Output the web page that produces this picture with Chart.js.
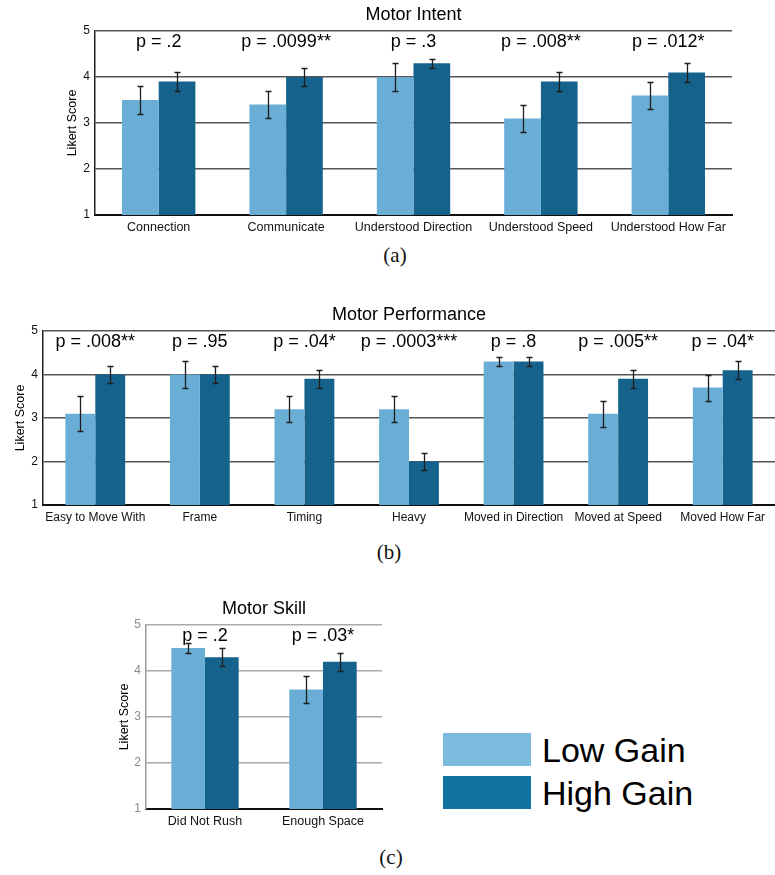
<!DOCTYPE html>
<html>
<head>
<meta charset="utf-8">
<script src="https://cdn.jsdelivr.net/npm/chart.js@4.4.1/dist/chart.umd.min.js"></script>
<style>
  body { margin:0; background:#fff; width:775px; height:875px; position:relative; overflow:hidden; font-family:'Liberation Sans', Arial, sans-serif; }
  canvas { position:absolute; }
  .cap { position:absolute; font-family:'Liberation Serif', serif; font-size:21px; color:#111; transform:translateX(-50%); }
  .sw { position:absolute; left:443px; width:88px; height:33px; }
  .lg { position:absolute; left:542px; font-size:34px; line-height:34px; color:#000; }
</style>
</head>
<body>
<canvas id="intentChart" width="775" height="240" style="left:0;top:0"></canvas>
<canvas id="perfChart" width="775" height="240" style="left:0;top:290px"></canvas>
<canvas id="skillChart" width="300" height="245" style="left:100px;top:585px"></canvas>

<div class="cap" style="left:395px;top:243px">(a)</div>
<div class="cap" style="left:389px;top:540px">(b)</div>
<div class="cap" style="left:391px;top:845px">(c)</div>

<div class="sw" style="top:733px;background:#7bbcde"></div>
<div class="lg" style="top:733px">Low Gain</div>
<div class="sw" style="top:776px;background:#11739f"></div>
<div class="lg" style="top:776px">High Gain</div>

<script>
const seriesNames = ['Low Gain', 'High Gain'];
const yTicks = [1, 2, 3, 4, 5];

// (a) Motor Intent
const intentLabels = ['Connection', 'Communicate', 'Understood Direction', 'Understood Speed', 'Understood How Far'];
const intentLow = [3.5, 3.4, 4.0, 3.1, 3.6];
const intentHigh = [3.9, 4.0, 4.3, 3.9, 4.1];
const intentLowErr = [0.3, 0.3, 0.3, 0.3, 0.3];
const intentHighErr = [0.2, 0.2, 0.1, 0.2, 0.2];
const intentP = ['p = .2', 'p = .0099**', 'p = .3', 'p = .008**', 'p = .012*'];

// (b) Motor Performance
const perfLabels = ['Easy to Move With', 'Frame', 'Timing', 'Heavy', 'Moved in Direction', 'Moved at Speed', 'Moved How Far'];
const perfLow = [3.1, 4.0, 3.2, 3.2, 4.3, 3.1, 3.7];
const perfHigh = [4.0, 4.0, 3.9, 2.0, 4.3, 3.9, 4.1];
const perfLowErr = [0.4, 0.3, 0.3, 0.3, 0.1, 0.3, 0.3];
const perfHighErr = [0.2, 0.2, 0.2, 0.2, 0.1, 0.2, 0.2];
const perfP = ['p = .008**', 'p = .95', 'p = .04*', 'p = .0003***', 'p = .8', 'p = .005**', 'p = .04*'];

// (c) Motor Skill
const skillLabels = ['Did Not Rush', 'Enough Space'];
const skillLow = [4.5, 3.6];
const skillHigh = [4.3, 4.2];
const skillLowErr = [0.1, 0.3];
const skillHighErr = [0.2, 0.2];
const skillP = ['p = .2', 'p = .03*'];

const FONT = "'Liberation Sans', Arial, sans-serif";
const LIGHT = '#6aaed6';
const DARK = '#15638d';

function makeAnnotate(spec) {
    return {
        id: 'annotate',
        afterDatasetsDraw(chart) {
            const ctx = chart.ctx;
            const ys = chart.scales.y;
            const area = chart.chartArea;
            const errs = [spec.lowErr, spec.highErr];
            ctx.save();
            // error bars
            ctx.strokeStyle = '#1e1e1e';
            ctx.lineWidth = 1.3;
            chart.data.datasets.forEach((ds, i) => {
                chart.getDatasetMeta(i).data.forEach((bar, j) => {
                    const t = Math.round(ys.getPixelForValue(ds.data[j] + errs[i][j])) + 0.5;
                    const b = Math.round(ys.getPixelForValue(ds.data[j] - errs[i][j])) + 0.5;
                    const x = Math.round(bar.x) + 0.5;
                    ctx.beginPath();
                    ctx.moveTo(x, t); ctx.lineTo(x, b);
                    ctx.moveTo(x - 3, t); ctx.lineTo(x + 3, t);
                    ctx.moveTo(x - 3, b); ctx.lineTo(x + 3, b);
                    ctx.stroke();
                });
            });
            // p values
            ctx.fillStyle = '#000';
            ctx.font = '18px ' + FONT;
            ctx.textAlign = 'center';
            ctx.textBaseline = 'alphabetic';
            const xs = chart.scales.x;
            spec.pValues.forEach((p, j) => {
                ctx.fillText(p, xs.getPixelForValue(j), area.top + 16);
            });
            // title
            ctx.fillText(spec.title, (area.left + area.right) / 2, area.top - 11);
            // y axis title
            ctx.font = '12.5px ' + FONT;
            ctx.translate(spec.yTitleX, (area.top + area.bottom) / 2);
            ctx.rotate(-Math.PI / 2);
            ctx.textBaseline = 'middle';
            ctx.fillText('Likert Score', 0, 0);
            ctx.restore();
        }
    };
}

function buildChart(id, spec) {
    const ctx = document.getElementById(id).getContext('2d');
    return new Chart(ctx, {
        type: 'bar',
        data: {
            labels: spec.labels,
            datasets: [
                { label: seriesNames[0], data: spec.low, backgroundColor: LIGHT, borderWidth: 0 },
                { label: seriesNames[1], data: spec.high, backgroundColor: DARK, borderWidth: 0 }
            ]
        },
        options: {
            responsive: false,
            animation: false,
            devicePixelRatio: 1,
            layout: { padding: { top: spec.top, right: spec.padRight, left: 0, bottom: 0 } },
            datasets: { bar: { categoryPercentage: spec.catPct, barPercentage: 1 } },
            plugins: { legend: { display: false }, tooltip: { enabled: false }, title: { display: false } },
            scales: {
                x: {
                    grid: { display: false, drawTicks: false },
                    border: { display: true, color: '#111', width: 2 },
                    ticks: { color: '#111', font: { family: FONT, size: spec.xFont }, padding: 5, maxRotation: 0, autoSkip: false },
                    afterFit: s => { s.height = spec.xHeight; }
                },
                y: {
                    min: yTicks[0],
                    max: yTicks[yTicks.length - 1],
                    afterBuildTicks: s => { s.ticks = yTicks.map(v => ({ value: v })); },
                    grid: { color: spec.gridColor, lineWidth: 1.5, drawTicks: false },
                    border: { display: true, color: spec.axisColor, width: 1.5 },
                    ticks: { color: spec.yTickColor, font: { family: FONT, size: 12 }, padding: 5 },
                    afterFit: s => { s.width = spec.yWidth; }
                }
            }
        },
        plugins: [makeAnnotate(spec)]
    });
}

buildChart('intentChart', {
    labels: intentLabels, low: intentLow, high: intentHigh,
    lowErr: intentLowErr, highErr: intentHighErr, pValues: intentP,
    title: 'Motor Intent',
    top: 31, padRight: 43, yWidth: 95, xHeight: 25, yTitleX: 73,
    catPct: 0.576, xFont: 12.5,
    gridColor: '#555555', axisColor: '#222', yTickColor: '#111'
});

buildChart('perfChart', {
    labels: perfLabels, low: perfLow, high: perfHigh,
    lowErr: perfLowErr, highErr: perfHighErr, pValues: perfP,
    title: 'Motor Performance',
    top: 41, padRight: 0, yWidth: 43, xHeight: 25, yTitleX: 21,
    catPct: 0.572, xFont: 12,
    gridColor: '#555555', axisColor: '#222', yTickColor: '#111'
});

buildChart('skillChart', {
    labels: skillLabels, low: skillLow, high: skillHigh,
    lowErr: skillLowErr, highErr: skillHighErr, pValues: skillP,
    title: 'Motor Skill',
    top: 40, padRight: 18, yWidth: 46, xHeight: 21, yTitleX: 25,
    catPct: 0.571, xFont: 12.5,
    gridColor: '#aaaaaa', axisColor: '#999', yTickColor: '#8a8a8a'
});
</script>
</body>
</html>
